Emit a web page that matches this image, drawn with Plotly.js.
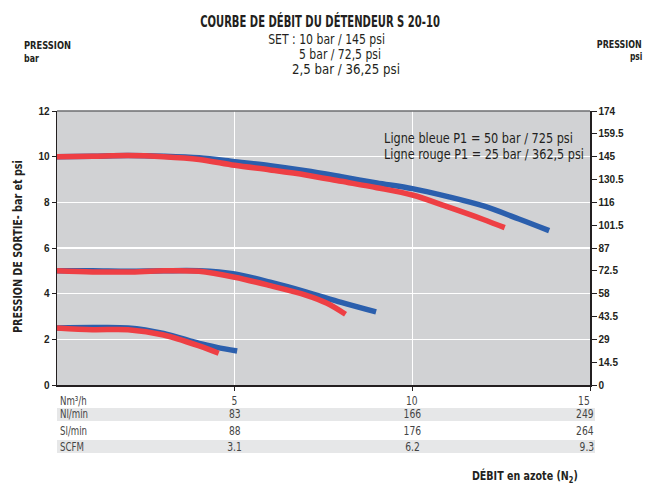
<!DOCTYPE html>
<html>
<head>
<meta charset="utf-8">
<script src="https://cdn.plot.ly/plotly-3.0.1.min.js"></script>
<style>html,body{margin:0;padding:0;background:#fff;}#chart{width:646px;height:484px;}</style>
</head>
<body>
<div id="chart"></div>
<script>
// ---- data (x in Nm3/h, y in bar) ----
const xBlue10 = [0, 1, 2, 3, 4, 5, 6, 7, 8, 9, 10, 11, 12, 13, 13.85];
const yBlue10 = [10, 10.02, 10.05, 10.02, 9.95, 9.78, 9.6, 9.38, 9.12, 8.85, 8.6, 8.25, 7.84, 7.27, 6.76];
const xRed10 = [0, 1, 2, 3, 4, 5, 6, 7, 8, 9, 10, 11, 12, 12.6];
const yRed10 = [10, 10.02, 10.05, 10.0, 9.88, 9.62, 9.42, 9.2, 8.92, 8.64, 8.32, 7.8, 7.25, 6.89];
const xBlue5 = [0, 1, 2, 3, 4, 5, 6, 7, 8, 8.98];
const yBlue5 = [5.0, 5.0, 4.98, 5.0, 5.0, 4.86, 4.5, 4.08, 3.62, 3.2];
const xRed5 = [0, 1, 2, 3, 4, 5, 6, 7, 7.6, 8.12];
const yRed5 = [5.0, 4.95, 4.95, 5.0, 4.98, 4.72, 4.35, 3.94, 3.58, 3.1];
const xBlue25 = [0, 1, 2, 3, 4, 4.5, 5.07];
const yBlue25 = [2.5, 2.52, 2.5, 2.26, 1.82, 1.65, 1.49];
const xRed25 = [0, 1, 2, 3, 4, 4.55];
const yRed25 = [2.5, 2.42, 2.42, 2.19, 1.71, 1.39];

const barTicks = [0, 2, 4, 6, 8, 10, 12];
const psiTicks = [0, 14.5, 29, 43.5, 58, 72.5, 87, 101.5, 116, 130.5, 145, 159.5, 174];
const psiLabels = ["0", "14.5", "29", "43.5", "58", "72.5", "87", "101.5", "116", "130.5", "145", "159.5", "174"];

const tableCols = [5, 10, 15];
const rowLabels = ["Nm\u00b3/h", "Nl/min", "Sl/min", "SCFM"];
const rowNm3h = ["5", "10", "15"];
const rowNlmin = ["83", "166", "249"];
const rowSlmin = ["88", "176", "264"];
const rowScfm = ["3.1", "6.2", "9.3"];

// ---- layout helpers (pixel -> paper) ----
const L = 57, R = 590, T = 111, B = 385;
const px = v => (v - L) / (R - L);
const py = v => (B - v) / (B - T);

const BLUE = '#2b5fad', RED = '#ee3f44';
const NARROW = 'DejaVu Sans Condensed, Liberation Sans Narrow, Arial Narrow, sans-serif';
const ARIAL = 'Liberation Sans, Arial, sans-serif';
const INK = '#231f20';

function line(x, y, c) {
  return {x: x, y: y, type: 'scatter', mode: 'lines', line: {color: c, width: 5.5, shape: 'spline', smoothing: 0.9}, hoverinfo: 'skip', showlegend: false};
}
const traces = [
  line(xBlue10, yBlue10, BLUE), line(xBlue5, yBlue5, BLUE), line(xBlue25, yBlue25, BLUE),
  line(xRed10, yRed10, RED), line(xRed5, yRed5, RED), line(xRed25, yRed25, RED),
  {x: [0], y: [0], yaxis: 'y2', type: 'scatter', mode: 'markers', marker: {opacity: 0}, hoverinfo: 'skip', showlegend: false}
];

const ann = [];
const fit = [];   // per-annotation horizontal condensing: {w: target width} or {s: scale}
function txt(text, x, y, opts, f) {
  ann.push(Object.assign({text: text, x: x, y: y, xref: 'paper', yref: 'paper', showarrow: false,
    xanchor: 'center', yanchor: 'middle', font: {family: NARROW, size: 12, color: INK}}, opts || {}));
  fit.push(f || null);
}
// subtitle
txt('SET : 10 bar / 145 psi', px(326), py(38.5), {font: {family: NARROW, size: 14, color: INK}}, {w: 117});
txt('5 bar / 72,5 psi', px(297), py(54.5), {xanchor: 'left', font: {family: NARROW, size: 14, color: INK}}, {w: 82});
txt('2,5 bar / 36,25 psi', px(290), py(69.5), {xanchor: 'left', font: {family: NARROW, size: 14, color: INK}}, {w: 108});
// corner labels
txt('<b>PRESSION</b>', px(21.5), py(45.5), {xanchor: 'left', font: {family: NARROW, size: 11, color: INK}}, {w: 47});
txt('<b>bar</b>', px(21.5), py(58), {xanchor: 'left', font: {family: NARROW, size: 11, color: INK}}, {w: 15});
txt('<b>PRESSION</b>', px(644), py(45), {xanchor: 'right', font: {family: NARROW, size: 11, color: INK}}, {w: 45});
txt('<b>psi</b>', px(644), py(56.5), {xanchor: 'right', font: {family: NARROW, size: 11, color: INK}}, {w: 12.5});
// legend text
txt('Ligne bleue P1 = 50 bar / 725 psi', px(381.5), py(137.5), {xanchor: 'left', font: {family: NARROW, size: 14, color: INK}}, {w: 189});
txt('Ligne rouge P1 = 25 bar / 362,5 psi', px(381.5), py(154), {xanchor: 'left', font: {family: NARROW, size: 14, color: INK}}, {w: 200});
// y title
txt('<b>PRESSION DE SORTIE- bar et psi</b>', px(17), py(247), {textangle: -90, font: {family: NARROW, size: 13, color: INK}}, {w: 173});
// x title
txt('<b>DÉBIT en azote (N<sub>2</sub>)</b>', px(579.5), py(476.5), {xanchor: 'right', font: {family: NARROW, size: 13, color: INK}}, {w: 106});

// table
const rowY = [401, 414, 431, 447];
const rows = [rowNm3h, rowNlmin, rowSlmin, rowScfm];
rowLabels.forEach((lab, i) => {
  txt(lab, px(58), py(rowY[i]), {xanchor: 'left', font: {family: NARROW, size: 12, color: '#444'}}, {s: 0.8});
  tableCols.forEach((c, j) => {
    const isLast = j === tableCols.length - 1;
    ann.push({text: rows[i][j], x: c, xref: 'x', y: py(rowY[i]), yref: 'paper', showarrow: false,
      xanchor: isLast ? 'right' : 'center', yanchor: 'middle', xshift: isLast ? (i === 0 ? 2 : 6) : 0,
      font: {family: NARROW, size: 12, color: '#444'}});
    fit.push({s: 0.85});
  });
});

const shapes = [
  {type: 'rect', xref: 'paper', yref: 'paper', x0: px(57), x1: px(595), y0: py(408), y1: py(421), fillcolor: '#e6e7e8', line: {width: 0}, layer: 'below'},
  {type: 'rect', xref: 'paper', yref: 'paper', x0: px(57), x1: px(595), y0: py(440), y1: py(453), fillcolor: '#e6e7e8', line: {width: 0}, layer: 'below'},
  {type: 'line', xref: 'paper', yref: 'paper', x0: 0, x1: 1, y0: 1, y1: 1, line: {color: '#6d6e71', width: 1.5}}
];

const layout = {
  width: 646, height: 484,
  margin: {l: L, r: 646 - R, t: T, b: 484 - B, pad: 0},
  paper_bgcolor: '#ffffff', plot_bgcolor: '#d1d2d4',
  title: {text: '<b>COURBE DE DÉBIT DU DÉTENDEUR S 20-10</b>', x: 320 / 646, xanchor: 'center', y: 1 - 21.5 / 484, yanchor: 'middle',
    font: {family: NARROW, size: 15, color: INK}},
  showlegend: false,
  xaxis: {range: [0, 15], tickvals: [5, 10, 15], showticklabels: false, ticks: 'outside', ticklen: 4, tickcolor: INK,
    showgrid: true, gridcolor: '#ffffff', gridwidth: 1.5, zeroline: false, showline: true, linecolor: INK, linewidth: 1.5, fixedrange: true},
  yaxis: {range: [0, 12], tickvals: barTicks, ticks: 'outside', ticklen: 4, tickcolor: INK,
    tickfont: {family: ARIAL, size: 10, color: INK, weight: 'bold'},
    showgrid: true, gridcolor: '#ffffff', gridwidth: 1.5, zeroline: false, showline: true, linecolor: INK, linewidth: 1.5, fixedrange: true},
  yaxis2: {range: [0, 174], overlaying: 'y', side: 'right', tickvals: psiTicks, ticktext: psiLabels, ticks: 'outside', ticklen: 5, tickcolor: INK,
    tickfont: {family: ARIAL, size: 10, color: INK, weight: 'bold'},
    showgrid: false, zeroline: false, showline: true, linecolor: INK, linewidth: 1.5, fixedrange: true},
  annotations: ann,
  shapes: shapes
};

function condense(t, s, anchor) {
  const bb = t.getBBox();
  const cx = anchor === 'left' ? bb.x : anchor === 'right' ? bb.x + bb.width : bb.x + bb.width / 2;
  const prev = t.getAttribute('transform') || '';
  t.setAttribute('transform', (prev + ' translate(' + cx + ',0) scale(' + s + ',1) translate(' + (-cx) + ',0)').trim());
}

Plotly.newPlot('chart', traces, layout, {displayModeBar: false, staticPlot: true}).then(function (gd) {
  gd.querySelectorAll('g.annotation').forEach(function (g) {
    const idx = +g.getAttribute('data-index');
    const f = fit[idx];
    if (!f) return;
    const t = g.querySelector('text.annotation-text');
    if (!t) return;
    const bb = t.getBBox();
    const s = f.w ? f.w / bb.width : f.s;
    condense(t, s, ann[idx].xanchor || 'center');
  });
  const tt = gd.querySelector('.gtitle');
  if (tt) condense(tt, 240 / tt.getBBox().width, 'center');
});
</script>
</body>
</html>
